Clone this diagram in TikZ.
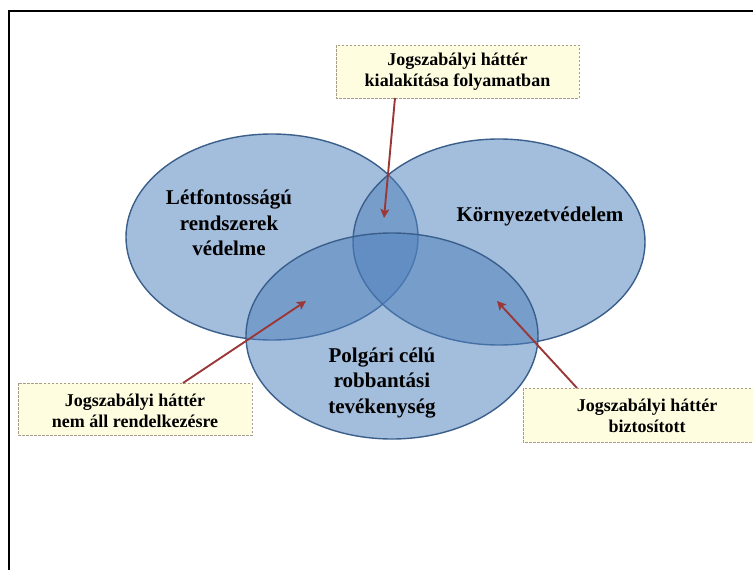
\documentclass[tikz,border=0pt]{standalone}
\usepackage{fontspec}
\setmainfont{Liberation Serif}
\usetikzlibrary{arrows.meta,shapes.geometric}
\definecolor{setfill}{HTML}{4F81BD}
\definecolor{setline}{HTML}{3A5F8B}
\definecolor{arrowred}{HTML}{9A3838}
\definecolor{notefill}{HTML}{FFFDE0}
\definecolor{noteline}{HTML}{A89C8E}
\tikzset{
  setell/.style={ellipse, minimum width=292pt, minimum height=206pt, fill=setfill, fill opacity=0.52, draw=setline, draw opacity=1, line width=1.4pt},
  settext/.style={font=\fontsize{21}{25.5}\selectfont\bfseries, align=center, text=black},
  notebox/.style={draw=noteline, dashed, dash pattern=on 2.5pt off 1.5pt, line width=0.8pt, fill=notefill},
  notetext/.style={font=\fontsize{18}{21}\selectfont\bfseries, align=center, text=black},
  pointer/.style={draw=arrowred, line width=1.9pt, -{Stealth[length=9pt,width=9pt,inset=2pt]}},
}
\begin{document}
\begin{tikzpicture}[x=1pt,y=-1pt]
\useasboundingbox (0,0) rectangle (753,570);
\clip (0,0) rectangle (753,570);
\fill[white] (0,0) rectangle (753,570);
% frame
\draw[line width=2.5pt] (9,570) -- (9,11) -- (760,11);
% sets
\node[setell] (L) at (272,237) {};
\node[setell] (R) at (499,242) {};
\node[setell] (B) at (392,336) {};
\node[settext] (Lt) at (229,223) {Létfontosságú\\rendszerek\\védelme};
\node[settext] (Rt) at (540,216) {Környezetvédelem};
\node[settext] (Bt) at (382,383) {Polgári célú\\robbantási\\tevékenység};
% notes
\path[notebox] (336,45) rectangle (579,98);
\node[notetext] (Nt) at (457.5,72) {Jogszabályi háttér\\kialakítása folyamatban};
\path[notebox] (18,383) rectangle (252,435);
\node[notetext] (Nl) at (135,411) {Jogszabályi háttér\\nem áll rendelkezésre};
\path[notebox] (523,388) rectangle (771,442);
\node[notetext] (Nr) at (647,416) {Jogszabályi háttér\\biztosított};
% pointer ends
\coordinate (st) at (395,98);
\coordinate (tt) at (384,218);
\coordinate (sl) at (183,383);
\coordinate (tl) at (306,301);
\coordinate (sr) at (577,388);
\coordinate (tr) at (497,301);
\draw[pointer] (st) -- (tt);
\draw[pointer] (sl) -- (tl);
\draw[pointer] (sr) -- (tr);
\end{tikzpicture}
\end{document}
